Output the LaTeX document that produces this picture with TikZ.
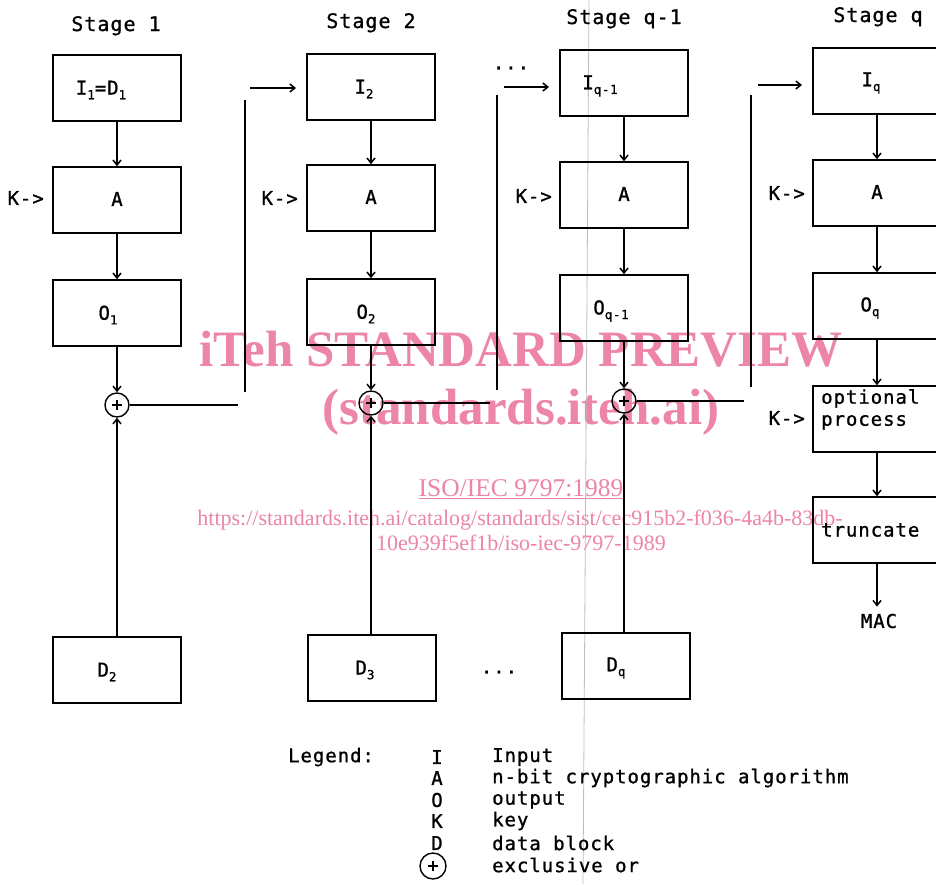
\documentclass[tikz,border=0pt]{standalone}
\usepackage{fontspec}
\setmainfont{Liberation Serif}
\newfontfamily\monofam[LetterSpace=5,FakeBold=1]{DejaVu Sans Mono}
\usetikzlibrary{arrows.meta}
\definecolor{wmpink}{RGB}{236,133,166}
\newcommand\lowr[1]{\raisebox{-0.45ex}{\fontsize{12.5}{12.5}\selectfont #1}}
\newcommand\lblfont{\monofam\fontsize{19}{22}\selectfont}
\newcommand\stgfont{\monofam\fontsize{20}{22}\selectfont}
\begin{document}
\begin{tikzpicture}[x=1pt,y=-1pt,
  ln/.style={line width=1.5pt},
  arr/.style={ln,-{Straight Barb[length=5pt,width=8pt]}},
  box/.style={draw,line width=1.6pt,minimum width=128pt,minimum height=66pt,inner sep=0pt},
  txt/.style={font=\lblfont,inner sep=0pt},
  stg/.style={font=\stgfont,inner sep=0pt,anchor=base},
  keyl/.style={font=\lblfont,inner sep=0pt,anchor=east},
  xor/.style={circle,draw,line width=1.4pt,minimum size=24pt,inner sep=0pt,
    path picture={\draw[line width=1.5pt] ([xshift=-5pt]path picture bounding box.center) -- ([xshift=5pt]path picture bounding box.center);
      \draw[line width=1.5pt] ([yshift=-5pt]path picture bounding box.center) -- ([yshift=5pt]path picture bounding box.center);}},
  wm/.style={text=wmpink,inner sep=0pt,anchor=base}]
\useasboundingbox (0,0) rectangle (936,884);
\fill[white] (0,0) rectangle (936,884);
\clip (0,0) rectangle (936,884);

% watermark (behind the drawing)
\node[wm,font=\fontsize{51}{51}\selectfont\bfseries] (wm1) at (521,366) {iTeh STANDARD PREVIEW};
\node[wm,font=\fontsize{51}{51}\selectfont\bfseries] (wm2) at (521,424) {(standards.iteh.ai)};
\node[wm,font=\fontsize{25.5}{26}\selectfont] (wm3) at (521,496) {\underline{ISO/IEC 9797:1989}};
\node[wm,font=\fontsize{22}{22}\selectfont] (wm4) at (520,525) {https://standards.iteh.ai/catalog/standards/sist/cec915b2-f036-4a4b-83db-};
\node[wm,font=\fontsize{22}{22}\selectfont] (wm5) at (521,550) {10e939f5ef1b/iso-iec-9797-1989};

% scan artifact line
\draw[gray!50,line width=0.8pt] (589,0) -- (583,884);

% stage titles
\node[stg] (s1) at (116,31) {Stage 1};
\node[stg] (s2) at (371,28) {Stage 2};
\node[stg] (s3) at (624,24) {Stage q-1};
\node[stg] (s4) at (878,22) {Stage q};

% stage 1
\node[box] (I1) at (117,88) {};
\node[box] (A1) at (117,200) {};
\node[box] (O1) at (117,313) {};
\node[xor] (X1) at (117,405) {};
\node[box] (D2) at (117,670) {};
\node[txt] (tI1) at (101,90) {I\lowr{1}=D\lowr{1}};
\node[txt] (tA1) at (117,199) {A};
\node[txt] (tO1) at (108,315) {O\lowr{1}};
\node[txt] (tD2) at (107,672) {D\lowr{2}};
\node[keyl] (k1) at (44,198) {K->};

% stage 2
\node[box] (I2) at (371,87) {};
\node[box] (A2) at (371,198) {};
\node[box] (O2) at (371,312) {};
\node[xor] (X2) at (371,403) {};
\node[box] (D3) at (372,668) {};
\node[txt] (tI2) at (364,89) {I\lowr{2}};
\node[txt] (tA2) at (371,197) {A};
\node[txt] (tO2) at (366,314) {O\lowr{2}};
\node[txt] (tD3) at (365,670) {D\lowr{3}};
\node[keyl] (k2) at (298,198) {K->};

% stage q-1
\node[box] (I3) at (624,83) {};
\node[box] (A3) at (624,195) {};
\node[box] (O3) at (624,308) {};
\node[xor] (X3) at (624,401) {};
\node[box] (D4) at (626,666) {};
\node[txt] (tI3) at (600,86) {I\lowr{q-1}};
\node[txt] (tA3) at (624,194) {A};
\node[txt] (tO3) at (611,311) {O\lowr{q-1}};
\node[txt] (tD4) at (616,668) {D\lowr{q}};
\node[keyl] (k3) at (552,196) {K->};

% stage q
\node[box] (I4) at (877,81) {};
\node[box] (A4) at (877,193) {};
\node[box] (O4) at (877,306) {};
\node[box] (P) at (877,419) {};
\node[box] (T) at (877,530) {};
\node[txt] (tI4) at (871,83) {I\lowr{q}};
\node[txt] (tA4) at (877,192) {A};
\node[txt] (tO4) at (870,308) {O\lowr{q}};
\node[txt,anchor=north west,align=left] (tP) at (821,389) {optional\\process};
\node[txt,anchor=west] (tT) at (821,530) {truncate};
\node[txt] (mac) at (879,621) {MAC};
\node[keyl] (k4) at (805,193) {K->};
\node[keyl] (k5) at (805,418) {K->};

% dots
\node[txt] (dt1) at (511,68) {...};
\node[txt] (dt2) at (499,672) {...};

% vertical flow arrows
\draw[arr] (I1) -- (A1);
\draw[arr] (A1) -- (O1);
\draw[arr] (O1) -- (X1);
\draw[arr] (D2) -- (X1);
\draw[arr] (I2) -- (A2);
\draw[arr] (A2) -- (O2);
\draw[arr] (O2) -- (X2);
\draw[arr] (D3.north -| X2) -- (X2);
\draw[arr] (I3) -- (A3);
\draw[arr] (A3) -- (O3);
\draw[arr] (O3) -- (X3);
\draw[arr] (D4.north -| X3) -- (X3);
\draw[arr] (I4) -- (A4);
\draw[arr] (A4) -- (O4);
\draw[arr] (O4) -- (P);
\draw[arr] (P) -- (T);
\draw[arr,shorten >=7pt] (T) -- (T |- mac.north);

% feedback connectors
\coordinate (h1) at (238,405);
\coordinate (v1b) at (245,392);
\coordinate (v1t) at (245,100);
\coordinate (a2s) at (250,88);
\coordinate (a2e) at (296,88);
\draw[ln] (X1) -- (h1);
\draw[ln] (v1b) -- (v1t);
\draw[arr] (a2s) -- (a2e);

\coordinate (h2) at (490,403);
\coordinate (v2b) at (497,390);
\coordinate (v2t) at (497,95);
\coordinate (a3s) at (504,87);
\coordinate (a3e) at (549,87);
\draw[ln] (X2) -- (h2);
\draw[ln] (v2b) -- (v2t);
\draw[arr] (a3s) -- (a3e);

\coordinate (h3) at (744,401);
\coordinate (v3b) at (751,387);
\coordinate (v3t) at (751,95);
\coordinate (a4s) at (758,85);
\coordinate (a4e) at (802,85);
\draw[ln] (X3) -- (h3);
\draw[ln] (v3b) -- (v3t);
\draw[arr] (a4s) -- (a4e);

% legend
\node[txt,anchor=west] (lg) at (288,757) {Legend:};
\node[txt] (lI) at (437,757) {I};
\node[txt] (lA) at (437,778) {A};
\node[txt] (lO) at (437,800) {O};
\node[txt] (lK) at (437,821) {K};
\node[txt] (lD) at (437,843) {D};
\node[xor,minimum size=26pt] (lX) at (433,866) {};
\node[txt,anchor=west] (dI) at (492,757) {Input};
\node[txt,anchor=west] (dA) at (492,778) {n-bit cryptographic algorithm};
\node[txt,anchor=west] (dO) at (492,800) {output};
\node[txt,anchor=west] (dK) at (492,821) {key};
\node[txt,anchor=west] (dD) at (492,843) {data block};
\node[txt,anchor=west] (dX) at (492,865) {exclusive or};
\end{tikzpicture}
\end{document}
